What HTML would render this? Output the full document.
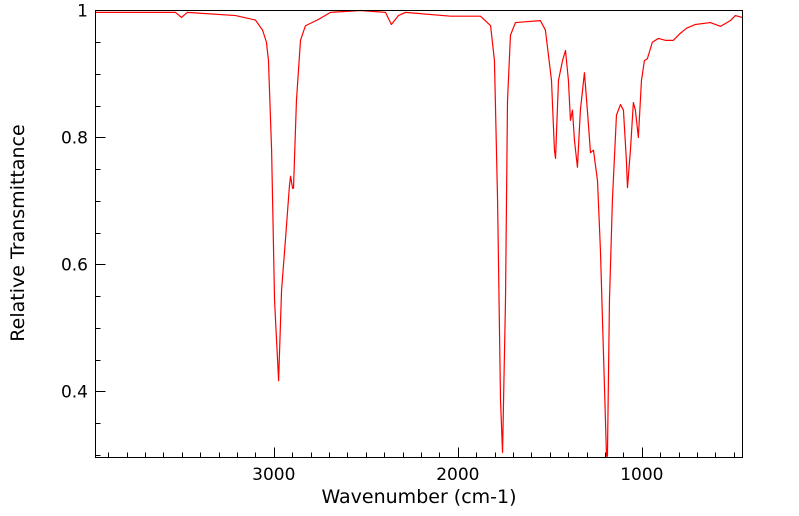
<!DOCTYPE html>
<html><head><meta charset="utf-8"><style>
html,body{margin:0;padding:0;background:#fff;}
svg{display:block;font-family:"DejaVu Sans","Liberation Sans",sans-serif;}
</style></head><body>
<svg id="chart" width="799" height="516" viewBox="0 0 799 516" xmlns="http://www.w3.org/2000/svg">
<g id="axes"></g>
<path id="series" fill="none" stroke="#ff0000" stroke-width="1.2" stroke-linejoin="round"></path>
<rect x="95.5" y="10.5" width="647" height="447" fill="none" stroke="#000" stroke-width="1"></rect>
<text x="419" y="503" font-size="19" text-anchor="middle">Wavenumber (cm-1)</text>
<text x="24" y="233" font-size="19" text-anchor="middle" transform="rotate(-90 24 233)">Relative Transmittance</text>
</svg>
<script>
const wavenumbers = [3969,3534,3502,3470,3208,3100,3061,3040,3029,3012,2996,2974,2958,2937,2915,2909,2898,2893,2877,2855,2828,2757,2692,2529,2393,2361,2323,2285,2040,1877,1822,1801,1784,1768,1757,1741,1730,1714,1687,1551,1524,1491,1475,1469,1453,1431,1415,1399,1388,1377,1366,1350,1334,1312,1296,1279,1263,1241,1225,1209,1192,1187,1176,1160,1138,1116,1100,1084,1078,1062,1046,1035,1019,1002,986,970,943,910,872,829,791,758,709,628,573,519,492,454];
const transmittance = [0.997,0.997,0.989,0.997,0.992,0.985,0.969,0.950,0.921,0.780,0.543,0.417,0.559,0.638,0.724,0.739,0.720,0.720,0.858,0.953,0.976,0.986,0.997,1.000,0.997,0.978,0.992,0.997,0.991,0.991,0.976,0.921,0.701,0.386,0.304,0.543,0.858,0.961,0.981,0.984,0.969,0.890,0.780,0.767,0.890,0.921,0.937,0.890,0.827,0.843,0.795,0.753,0.843,0.902,0.843,0.776,0.780,0.732,0.622,0.465,0.298,0.298,0.543,0.701,0.835,0.852,0.843,0.764,0.721,0.780,0.855,0.843,0.800,0.890,0.921,0.924,0.950,0.956,0.953,0.953,0.964,0.972,0.978,0.981,0.975,0.984,0.992,0.989];
const xTicks = [3000,2000,1000];
const yTicks = [1,0.8,0.6,0.4];
const yTickLabels = ["1","0.8","0.6","0.4"];

const L=95.5,R=742.5,T=10.5,B=457.5;
const X0=3969,X1=453,Y0=0.296,Y1=1.0;
function xs(w){return L+(X0-w)/(X0-X1)*(R-L);}
function ys(v){return B-(v-Y0)/(Y1-Y0)*(B-T);}
const NS="http://www.w3.org/2000/svg";
const axes=document.getElementById('axes');
function line(x1,y1,x2,y2,name){
  const l=document.createElementNS(NS,'line');
  l.setAttribute('x1',x1);l.setAttribute('y1',y1);l.setAttribute('x2',x2);l.setAttribute('y2',y2);
  l.setAttribute('stroke','#000');l.setAttribute('stroke-width','1');
  
  
  axes.appendChild(l);
}
function text(x,y,s,anchor,name){
  const t=document.createElementNS(NS,'text');
  t.setAttribute('x',x);t.setAttribute('y',y);t.setAttribute('font-size','17');t.setAttribute('text-anchor',anchor);
  t.textContent=s;
  
  
  axes.appendChild(t);
}
for(let w=3900;w>X1;w-=100){
  const x=Math.round(xs(w))+0.5;
  const major=w%1000===0;
  line(x,B,x,B-(major?10:5),'x-tick');
}
xTicks.forEach(w=>text(xs(w),480,String(w),'middle','x-tick-label'));
for(let v=0.3;v<=1.0001;v+=0.05){
  const y=Math.round(ys(v))+0.5;
  const major=Math.abs(v*10-Math.round(v*10))<1e-6 && Math.round(v*10)%2===0;
  line(L,y,L+(major?10:5),y,'y-tick');
}
yTicks.forEach((v,i)=>text(88,ys(v)+6,yTickLabels[i],'end','y-tick-label'));
let d='';
wavenumbers.forEach((w,i)=>{d+=(i?'L':'M')+xs(w).toFixed(2)+','+ys(transmittance[i]).toFixed(2);});
document.getElementById('series').setAttribute('d',d);
</script>
</body></html>
